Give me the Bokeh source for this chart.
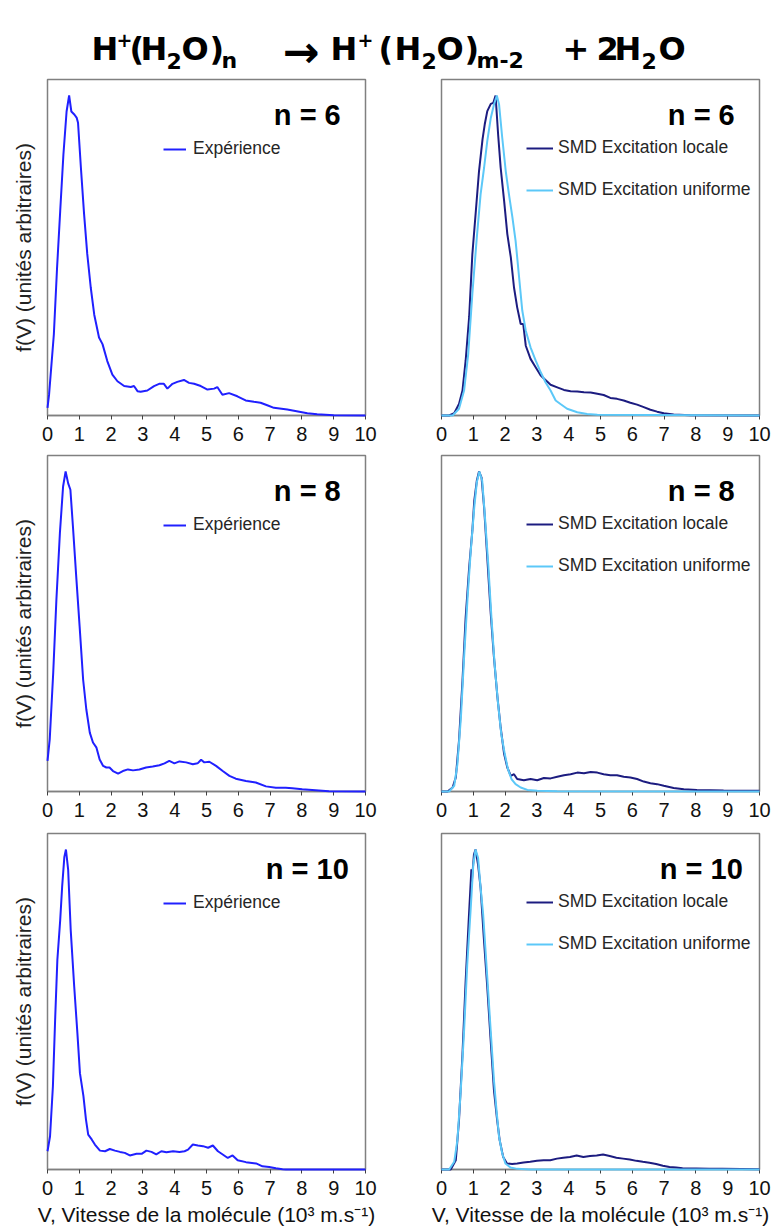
from bokeh.plotting import figure
from bokeh.models import Range1d, FixedTicker, Label
from bokeh.layouts import column, row
from bokeh.embed import file_html
from bokeh.resources import INLINE

# ---------------- data ----------------
TICKS = [0, 1, 2, 3, 4, 5, 6, 7, 8, 9, 10]
N_LABELS = ["n = 6", "n = 8", "n = 10"]
EXP_LABEL = "Expérience"
LOC_LABEL = "SMD Excitation locale"
UNI_LABEL = "SMD Excitation uniforme"
X_TITLE = "V, Vitesse de la molécule (10³ m.s⁻¹)"
Y_TITLE = "f(V) (unités arbitraires)"

# n = 6
v6_exp = [0, 0.05, 0.2, 0.3, 0.4, 0.5, 0.6, 0.68, 0.75, 0.85, 0.92, 0.96, 1.05, 1.15, 1.25, 1.36, 1.47, 1.62, 1.73, 1.88,
          2.04, 2.2, 2.41, 2.62, 2.72, 2.83, 2.93, 3.14, 3.35, 3.51, 3.66, 3.77, 3.93, 4.08, 4.29, 4.45, 4.61, 4.82, 5.03, 5.24,
          5.34, 5.5, 5.71, 5.97, 6.23, 6.49, 6.7, 6.91, 7.12, 7.54, 7.96, 8.17, 8.48, 9.0, 10]
f6_exp = [0.024, 0.066, 0.254, 0.46, 0.64, 0.815, 0.95, 1.0, 0.95, 0.94, 0.93, 0.915, 0.775, 0.63, 0.505, 0.40, 0.315, 0.244, 0.223, 0.17,
          0.128, 0.107, 0.092, 0.089, 0.092, 0.076, 0.074, 0.078, 0.092, 0.099, 0.099, 0.084, 0.099, 0.105, 0.111, 0.102, 0.099, 0.092, 0.081, 0.084,
          0.089, 0.065, 0.070, 0.060, 0.047, 0.043, 0.040, 0.032, 0.024, 0.019, 0.011, 0.007, 0.004, 0.001, 0.0]
v6_loc = [0, 0.24, 0.4, 0.55, 0.66, 0.76, 0.87, 0.97, 1.08, 1.18, 1.29, 1.36, 1.44, 1.55, 1.63, 1.70, 1.78, 1.86, 1.97, 2.07,
          2.18, 2.28, 2.38, 2.49, 2.57, 2.65, 2.8, 2.96, 3.12, 3.27, 3.43, 3.64, 3.85, 4.06, 4.27, 4.48, 4.69, 4.9, 5.1, 5.31,
          5.52, 5.73, 5.94, 6.15, 6.36, 6.57, 6.78, 6.99, 7.3, 7.82, 10]
f6_loc = [0, 0, 0.007, 0.036, 0.078, 0.172, 0.308, 0.504, 0.639, 0.764, 0.863, 0.91, 0.951, 0.974, 0.977, 1.0, 0.879, 0.775, 0.67, 0.567,
          0.494, 0.4, 0.338, 0.286, 0.286, 0.218, 0.177, 0.151, 0.125, 0.111, 0.096, 0.088, 0.080, 0.076, 0.075, 0.073, 0.072, 0.068, 0.064, 0.055,
          0.052, 0.047, 0.040, 0.034, 0.026, 0.018, 0.012, 0.007, 0.003, 0.001, 0]
v6_uni = [0, 0.35, 0.55, 0.71, 0.84, 0.97, 1.11, 1.23, 1.34, 1.44, 1.55, 1.65, 1.74, 1.81, 1.91, 2.02, 2.12, 2.23, 2.33, 2.44,
          2.54, 2.65, 2.8, 2.96, 3.12, 3.27, 3.43, 3.59, 3.74, 3.95, 4.27, 4.58, 4.9, 10]
f6_uni = [0, 0, 0.021, 0.078, 0.192, 0.38, 0.556, 0.692, 0.775, 0.858, 0.93, 0.972, 1.0, 0.972, 0.868, 0.764, 0.692, 0.619, 0.546, 0.432,
          0.328, 0.265, 0.213, 0.172, 0.135, 0.104, 0.078, 0.047, 0.036, 0.021, 0.010, 0.005, 0.002, 0]

# n = 8
v8_exp = [0, 0.07, 0.18, 0.28, 0.39, 0.49, 0.57, 0.65, 0.72, 0.8, 0.91, 1.01, 1.12, 1.22, 1.33, 1.43, 1.54, 1.64, 1.75, 1.85,
          1.95, 2.06, 2.22, 2.37, 2.53, 2.69, 2.89, 3.1, 3.31, 3.52, 3.68, 3.83, 3.99, 4.15, 4.36, 4.57, 4.72, 4.83, 4.93, 5.09,
          5.3, 5.51, 5.72, 5.92, 6.24, 6.55, 6.87, 7.18, 7.49, 7.7, 8.01, 8.43, 8.85, 10]
f8_exp = [0.096, 0.163, 0.371, 0.6, 0.808, 0.953, 1.0, 0.963, 0.943, 0.828, 0.662, 0.516, 0.35, 0.257, 0.184, 0.153, 0.137, 0.100, 0.080, 0.075,
          0.075, 0.064, 0.056, 0.064, 0.069, 0.066, 0.069, 0.075, 0.078, 0.082, 0.088, 0.096, 0.088, 0.094, 0.091, 0.085, 0.088, 0.099, 0.091, 0.093,
          0.080, 0.064, 0.049, 0.040, 0.033, 0.028, 0.016, 0.012, 0.012, 0.010, 0.007, 0.004, 0.001, 0]
v8_loc = [0, 0.19, 0.35, 0.45, 0.55, 0.66, 0.76, 0.87, 0.97, 1.03, 1.11, 1.18, 1.26, 1.34, 1.44, 1.55, 1.65, 1.76, 1.86, 1.97,
          2.07, 2.18, 2.28, 2.38, 2.59, 2.8, 3.01, 3.22, 3.43, 3.64, 3.85, 4.06, 4.27, 4.48, 4.69, 4.9, 5.1, 5.31, 5.52, 5.73,
          5.94, 6.15, 6.36, 6.57, 6.78, 6.99, 7.3, 7.62, 8.03, 8.45, 8.87, 10]
f8_loc = [0, 0, 0.0125, 0.044, 0.158, 0.346, 0.544, 0.7, 0.815, 0.908, 0.971, 1.0, 0.981, 0.888, 0.731, 0.554, 0.419, 0.294, 0.2, 0.117,
          0.075, 0.049, 0.054, 0.039, 0.035, 0.039, 0.035, 0.042, 0.041, 0.046, 0.051, 0.054, 0.059, 0.057, 0.061, 0.059, 0.054, 0.051, 0.051, 0.046,
          0.044, 0.039, 0.031, 0.026, 0.023, 0.018, 0.011, 0.007, 0.005, 0.004, 0.003, 0.002]
v8_uni = [0, 0.24, 0.4, 0.5, 0.61, 0.71, 0.82, 0.92, 1.03, 1.11, 1.19, 1.28, 1.36, 1.47, 1.57, 1.67, 1.78, 1.88, 1.99, 2.09,
          2.2, 2.33, 2.49, 2.7, 3.01, 3.64, 10]
f8_uni = [0, 0, 0.018, 0.085, 0.231, 0.419, 0.606, 0.752, 0.888, 0.966, 1.0, 0.971, 0.867, 0.71, 0.544, 0.398, 0.273, 0.179, 0.117, 0.07,
          0.039, 0.023, 0.0125, 0.005, 0.002, 0.001, 0]

# n = 10
v10_exp = [0, 0.08, 0.17, 0.24, 0.31, 0.40, 0.46, 0.53, 0.58, 0.65, 0.73, 0.84, 0.94, 1.02, 1.13, 1.21, 1.28, 1.39, 1.49, 1.65,
           1.81, 1.96, 2.12, 2.28, 2.43, 2.59, 2.8, 2.96, 3.11, 3.27, 3.42, 3.58, 3.74, 3.95, 4.15, 4.31, 4.42, 4.57, 4.73, 4.89,
           5.05, 5.2, 5.36, 5.51, 5.67, 5.82, 5.98, 6.24, 6.56, 6.76, 6.97, 7.18, 7.39, 7.5, 10]
f10_exp = [0.057, 0.104, 0.260, 0.468, 0.655, 0.78, 0.883, 0.977, 1.0, 0.936, 0.748, 0.572, 0.426, 0.301, 0.229, 0.156, 0.109, 0.094, 0.078, 0.059,
           0.057, 0.064, 0.059, 0.055, 0.052, 0.044, 0.049, 0.049, 0.059, 0.055, 0.047, 0.057, 0.054, 0.057, 0.055, 0.057, 0.062, 0.078, 0.075, 0.073,
           0.068, 0.075, 0.057, 0.047, 0.036, 0.044, 0.029, 0.023, 0.019, 0.010, 0.008, 0.004, 0.001, 0, 0]
v10_loc = [0, 0.29, 0.45, 0.55, 0.66, 0.76, 0.86, 0.94, 0.955, 1.02, 1.07, 1.15, 1.23, 1.33, 1.44, 1.54, 1.65, 1.75, 1.83, 1.94,
           2.06, 2.22, 2.38, 2.58, 2.79, 3.0, 3.21, 3.42, 3.63, 3.83, 4.04, 4.25, 4.46, 4.67, 4.88, 5.08, 5.29, 5.5, 5.71, 5.92,
           6.13, 6.33, 6.54, 6.75, 6.96, 7.17, 7.38, 7.58, 8.0, 8.42, 8.83, 10]
f10_loc = [0, 0, 0.029, 0.153, 0.361, 0.59, 0.787, 0.938, 0.90, 0.984, 1.0, 0.953, 0.88, 0.725, 0.569, 0.413, 0.247, 0.154, 0.091, 0.039,
           0.019, 0.017, 0.019, 0.022, 0.024, 0.027, 0.029, 0.029, 0.034, 0.037, 0.039, 0.044, 0.039, 0.042, 0.044, 0.047, 0.042, 0.037, 0.034, 0.031,
           0.027, 0.024, 0.021, 0.017, 0.012, 0.008, 0.006, 0.004, 0.003, 0.002, 0.002, 0.001]
v10_uni = [0, 0.24, 0.4, 0.5, 0.6, 0.71, 0.81, 0.92, 1.0, 1.07, 1.15, 1.23, 1.31, 1.44, 1.54, 1.65, 1.73, 1.81, 1.91, 2.01,
           2.17, 2.38, 2.79, 10]
f10_uni = [0, 0, 0.024, 0.092, 0.237, 0.434, 0.642, 0.818, 0.953, 1.0, 0.974, 0.88, 0.797, 0.6, 0.444, 0.278, 0.185, 0.102, 0.05, 0.019,
           0.006, 0.002, 0, 0]

# ---------------- styles ----------------
FONT = "Liberation Sans"
TFONT = "DejaVu Sans"
C_EXP = "#2020ff"
C_LOC = "#1c1c80"
C_UNI = "#5cc8f8"
GREY = "#808080"
FW, FH = 318, 336
YMAX = 1.05


def panel(left, bottom, top_border, nlabel, curves):
    p = figure(frame_width=FW, frame_height=FH,
               x_range=Range1d(0, 10), y_range=Range1d(0, YMAX),
               toolbar_location=None, output_backend="svg",
               y_axis_location="left" if left else None,
               min_border_left=47 if left else 54,
               min_border_right=22 if left else 15,
               min_border_top=top_border, min_border_bottom=0,
               outline_line_color=GREY, outline_line_width=1.5,
               background_fill_color="white", border_fill_color="white")
    p.grid.visible = False
    xa = p.xaxis[0]
    xa.ticker = FixedTicker(ticks=TICKS)
    xa.major_tick_out = 4
    xa.major_tick_in = 0
    xa.minor_tick_line_color = None
    xa.axis_line_color = GREY
    xa.axis_line_width = 1.5
    xa.major_tick_line_color = "#404040"
    xa.major_label_standoff = 7
    xa.major_label_text_font = FONT
    xa.major_label_text_font_size = "20px"
    xa.major_label_text_color = "#111111"
    if bottom:
        xa.axis_label = X_TITLE
        xa.axis_label_standoff = 5
        xa.axis_label_text_font = FONT
        xa.axis_label_text_font_size = "21px"
        xa.axis_label_text_font_style = "normal"
        xa.axis_label_text_color = "#111111"
    if left:
        ya = p.yaxis[0]
        ya.ticker = FixedTicker(ticks=[])
        ya.axis_line_color = None
        ya.major_tick_line_color = None
        ya.minor_tick_line_color = None
        ya.axis_label = Y_TITLE
        ya.axis_label_standoff = 13
        ya.axis_label_text_font = FONT
        ya.axis_label_text_font_size = "21px"
        ya.axis_label_text_font_style = "normal"
        ya.axis_label_text_color = "#222222"

    for v, f, color, label in curves:
        r = p.line(v, f, line_color=color, line_width=2, legend_label=label)
        r.level = "overlay"

    lg = p.legend[0]
    lg.padding = 0
    lg.margin = 0
    lg.border_line_color = None
    lg.background_fill_alpha = 0
    lg.glyph_height = 20
    lg.label_height = 20
    lg.spacing = 21
    lg.label_text_font = FONT
    lg.label_text_font_size = "17.5px"
    lg.label_text_color = "#262626"
    if left:
        lg.glyph_width = 23
        lg.label_standoff = 7
        lg.location = (116, FH - 80)
    else:
        lg.glyph_width = 27
        lg.label_standoff = 5
        lg.location = (85, FH - 121)

    p.add_layout(Label(x=8.17, y=YMAX * (1 - 35 / FH), text=nlabel,
                       text_align="center", text_baseline="alphabetic",
                       text_font=FONT, text_font_size="29px",
                       text_font_style="bold", text_color="black"))
    return p


# ---------------- title ----------------
TW, TH = 774, 76
tf = figure(width=TW, height=TH, x_range=Range1d(0, TW), y_range=Range1d(TH, 0),
            toolbar_location=None, output_backend="svg",
            x_axis_location=None, y_axis_location=None,
            min_border=0, outline_line_color=None)
tf.grid.visible = False
BIG, SUB, SUP = "32px", "22px", "19px"
title_parts = [
    ("H", 91, 48, BIG), ("+", 116, 39, SUP), ("(", 129, 48, BIG), ("H", 140, 48, BIG),
    ("2", 166, 60, SUB), ("O", 181, 48, BIG), (")", 209, 48, BIG), ("n", 221, 60, SUB),
    ("→", 282, 51, "44px"),
    ("H", 330, 48, BIG), ("+", 357, 39, SUP), ("(", 378, 48, BIG), ("H", 394, 48, BIG),
    ("2", 421, 60, SUB), ("O", 436, 48, BIG), (")", 464, 48, BIG), ("m-2", 476, 60, SUB),
    ("+", 562, 48, BIG), ("2", 596, 48, BIG), ("H", 614, 48, BIG), ("2", 641, 60, SUB),
    ("O", 658, 48, BIG),
]
for txt, px, py, size in title_parts:
    tf.add_layout(Label(x=px, y=py, text=txt, text_align="left",
                        text_baseline="alphabetic", text_font=TFONT,
                        text_font_size=size, text_font_style="bold",
                        text_color="black"))

p1 = panel(True, False, 3, N_LABELS[0], [(v6_exp, f6_exp, C_EXP, EXP_LABEL)])
p2 = panel(False, False, 3, N_LABELS[0], [(v6_loc, f6_loc, C_LOC, LOC_LABEL), (v6_uni, f6_uni, C_UNI, UNI_LABEL)])
p3 = panel(True, False, 12, N_LABELS[1], [(v8_exp, f8_exp, C_EXP, EXP_LABEL)])
p4 = panel(False, False, 12, N_LABELS[1], [(v8_loc, f8_loc, C_LOC, LOC_LABEL), (v8_uni, f8_uni, C_UNI, UNI_LABEL)])
p5 = panel(True, True, 14, N_LABELS[2], [(v10_exp, f10_exp, C_EXP, EXP_LABEL)])
p6 = panel(False, True, 14, N_LABELS[2], [(v10_loc, f10_loc, C_LOC, LOC_LABEL), (v10_uni, f10_uni, C_UNI, UNI_LABEL)])

layout = column(tf, row(p1, p2), row(p3, p4), row(p5, p6))
open("out.html", "w").write(file_html(layout, INLINE))
